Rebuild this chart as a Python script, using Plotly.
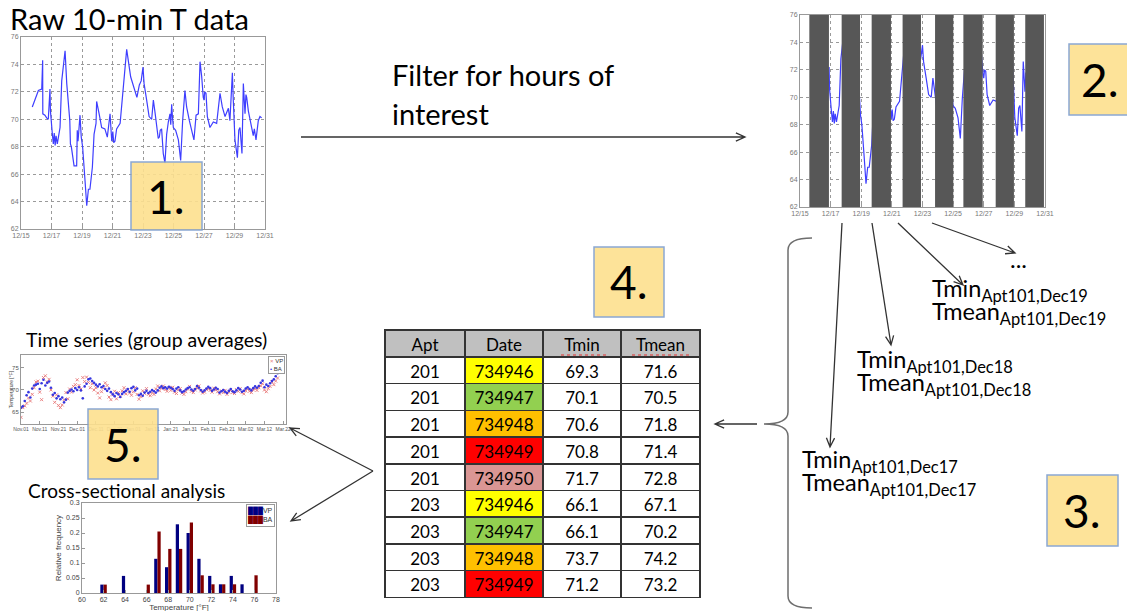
import math
import plotly.graph_objects as go

W, H = 1135, 611
OX, OY = 8, 8  # page body margin offset
FONT = "Lato"
AXFONT = "Liberation Sans"


def px(x):
    return (x - OX) / W


def py(y):
    return 1 - (y - OY) / H


# ---- raw 10-min temperature (day of December, degF) ----
raw_day = [15.74, 16.14, 16.36, 16.42, 16.43, 16.57, 16.68, 16.79, 16.90, 16.93, 17.05, 17.12, 17.18,
           17.24, 17.30, 17.38, 17.56, 17.67, 17.89, 18.00, 18.20, 18.24, 18.30, 18.48, 18.65, 18.69,
           18.74, 18.80, 18.87, 18.95, 19.04, 19.20, 19.31, 19.42, 19.52, 19.68, 19.79, 19.92, 19.96,
           20.14, 20.29, 20.50, 20.66, 20.84, 20.95, 21.02, 21.08, 21.16, 21.22, 21.27, 21.50, 21.70,
           21.93, 22.19, 22.48, 22.60, 22.76, 22.88, 23.00, 23.07, 23.24, 23.40, 23.57, 23.68, 23.80,
           23.94, 24.00, 24.07, 24.13, 24.22, 24.33, 24.44, 24.55, 24.66, 24.77, 24.82, 24.88, 24.93,
           24.99, 25.14, 25.32, 25.47, 25.60, 25.75, 25.86, 26.04, 26.19, 26.34, 26.48, 26.63, 26.74,
           26.85, 26.95, 27.00, 27.05, 27.13, 27.22, 27.39, 27.61, 27.83, 28.05, 28.20, 28.38, 28.60,
           28.70, 28.86, 28.92, 29.03, 29.19, 29.28, 29.36, 29.49, 29.58, 29.64, 29.69, 29.75, 29.80,
           29.91, 30.06, 30.23, 30.30, 30.41, 30.56, 30.67, 30.78]
raw_temp = [70.9, 72.1, 72.2, 74.3, 70.4, 70.3, 70.1, 70.0, 72.2, 70.6, 69.0, 68.2, 69.0,
            68.1, 68.8, 68.2, 69.4, 72.8, 75.0, 72.6, 69.9, 68.2, 68.0, 66.6, 66.6, 69.2,
            68.4, 69.8, 70.3, 68.7, 68.0, 65.5, 63.7, 64.9, 64.9, 66.5, 68.9, 69.7, 71.3,
            70.3, 69.4, 69.3, 68.7, 70.4, 68.4, 69.1, 68.3, 68.4, 69.0, 69.3, 69.7, 72.4,
            75.1, 73.1, 71.9, 71.6, 72.5, 72.8, 73.8, 72.6, 71.4, 70.2, 70.0, 71.4, 70.4,
            69.3, 68.6, 68.7, 69.2, 69.3, 67.5, 66.8, 68.9, 69.8, 70.4, 69.6, 71.1, 70.2,
            69.4, 69.2, 68.5, 67.0, 69.9, 72.1, 70.9, 69.9, 69.1, 68.5, 70.3, 70.4, 74.2,
            73.1, 71.6, 71.4, 72.0, 71.9, 70.2, 69.4, 69.8, 69.7, 71.9, 70.9, 70.2, 70.8,
            69.9, 73.4, 71.4, 68.5, 67.2, 69.2, 69.4, 67.5, 72.6, 71.0, 70.4, 71.8, 71.6,
            70.6, 69.7, 68.8, 69.3, 68.5, 69.9, 70.2, 70.1]
date_ticks = [15, 17, 19, 21, 23, 25, 27, 29, 31]
date_labels = ["12/15", "12/17", "12/19", "12/21", "12/23", "12/25", "12/27", "12/29", "12/31"]
temp_ticks = [62, 64, 66, 68, 70, 72, 74, 76]

# ---- excluded hours (dark bands in panel 2) ----
filter_start = [15.61, 17.72, 19.68, 21.70, 23.82, 25.67, 27.78, 29.71]
filter_end = [16.89, 18.92, 20.94, 22.90, 25.01, 26.93, 28.97, 30.93]

# ---- group-average time series (days since Nov 1) ----
ts_day = list(range(140))
ts_ba = [66.0, 66.3, 67.5, 68.8, 69.5, 68.3, 70.3, 71.0, 71.2, 71.4,
         70.2, 71.5, 72.3, 71.0, 71.6, 71.9, 70.5, 68.9, 69.3, 68.1,
         68.6, 67.9, 68.3, 67.2, 67.8, 69.4, 69.8, 70.1, 69.7, 70.4,
         70.0, 70.6, 69.9, 68.1, 70.8, 71.4, 72.4, 72.6, 72.0, 71.6,
         71.2, 70.8, 71.3, 70.6, 70.9, 70.2, 69.8, 70.3, 69.5, 69.0,
         68.6, 69.3, 69.0, 68.4, 69.1, 69.5, 69.8, 70.2, 69.6, 70.4,
         70.7, 69.9, 70.3, 68.8, 69.1, 68.7, 69.4, 69.8, 69.3, 69.6,
         70.0, 69.7, 69.4, 69.9, 70.5, 70.8, 70.4, 70.6, 70.3, 70.7,
         70.5, 70.2, 69.8, 70.3, 70.6, 69.9, 69.5, 69.7, 70.1, 70.4,
         70.6, 70.1, 69.8, 70.2, 70.9, 70.5, 70.0, 69.6, 69.9, 70.3,
         70.7, 70.4, 69.8, 70.1, 70.5, 70.2, 69.4, 69.7, 70.0, 69.6,
         69.3, 69.8, 70.2, 69.7, 69.5, 69.9, 70.4, 70.1, 69.6, 69.8,
         70.3, 70.6, 70.2, 69.9, 70.4, 70.8, 70.5, 70.9, 71.6, 72.1,
         70.6, 71.2, 70.9, 71.5, 72.0, 72.4, 73.1, 73.8, 75.0, 76.5]
ts_vp = [63.8, 66.0, 66.4, 67.0, 68.2, 67.5, 69.0, 70.5, 71.8, 72.0,
         69.5, 67.8, 72.8, 73.2, 71.8, 72.4, 70.0, 68.6, 67.2, 68.9,
         66.5, 66.0, 66.6, 67.8, 69.4, 68.0, 70.2, 69.5, 70.8, 71.2,
         72.3, 71.0, 70.2, 72.8, 71.9, 72.9, 71.7, 70.5, 71.4, 70.0,
         70.5, 69.3, 68.2, 69.6, 70.4, 71.6, 71.0, 68.4, 67.8, 68.9,
         69.7, 68.0, 69.4, 68.6, 69.8, 70.5, 69.1, 70.0, 69.3, 68.8,
         69.6, 70.5, 69.0, 67.9, 68.5, 69.8, 69.2, 70.3, 69.0, 68.7,
         69.4, 69.0, 70.2, 70.9, 69.8, 70.4, 70.9, 70.1, 69.7, 70.5,
         69.9, 70.6, 69.5, 69.2, 70.0, 70.3, 69.3, 69.0, 69.6, 70.2,
         70.8, 69.7, 69.4, 70.0, 70.4, 70.9, 69.8, 69.3, 69.5, 70.1,
         70.3, 69.9, 69.5, 70.4, 70.0, 69.6, 69.1, 69.8, 69.4, 69.9,
         69.0, 69.5, 69.9, 69.4, 69.2, 70.1, 69.7, 70.3, 69.4, 69.1,
         69.8, 70.2, 69.7, 69.4, 70.0, 70.3, 69.9, 70.5, 70.9, 71.4,
         70.0, 69.6, 70.3, 70.8, 71.8, 71.2, 72.0, 72.7, 74.0, 75.6]
ts_tick_day = [0, 10, 20, 30, 40, 50, 60, 70, 80, 90, 100, 110, 120, 130, 140]
ts_tick_labels = ["Nov.01", "Nov.11", "Nov.21", "Dec.01", "Dec.11", "Dec.21", "Jan.01", "Jan.11",
                  "Jan.21", "Jan.31", "Feb.11", "Feb.21", "Mar.02", "Mar.12", "Mar.22"]

# ---- cross-sectional histogram ----
hist_temp = [62, 63, 64, 65, 66, 67, 68, 69, 70, 71, 72, 73, 74, 75, 76]
hist_vp = [0.028, 0, 0.057, 0, 0, 0.114, 0.086, 0.229, 0.200, 0.114, 0.057, 0.029, 0.057, 0.029, 0]
hist_ba = [0.028, 0, 0, 0, 0.028, 0.205, 0.147, 0.147, 0.235, 0.059, 0.029, 0.029, 0.029, 0, 0.059]

# ---- daily summary table ----
table_apt = ["201", "201", "201", "201", "201", "203", "203", "203", "203"]
table_date = ["734946", "734947", "734948", "734949", "734950", "734946", "734947", "734948", "734949"]
table_tmin = ["69.3", "70.1", "70.6", "70.8", "71.7", "66.1", "66.1", "73.7", "71.2"]
table_tmean = ["71.6", "70.5", "71.8", "71.4", "72.8", "67.1", "70.2", "74.2", "73.2"]
date_colors = ["#ffff00", "#92d050", "#ffc000", "#ff0000", "#da9694",
               "#ffff00", "#92d050", "#ffc000", "#ff0000"]

VP_RED, BA_BLUE = "#e87878", "#3636e0"
fig = go.Figure()

# panel 1: raw data
fig.add_trace(go.Scatter(x=raw_day, y=raw_temp, mode="lines", line=dict(color="#3e3eff", width=1.2),
                         xaxis="x", yaxis="y"))
# panel 2: same data, excluded periods masked by dark bands drawn on top
fig.add_trace(go.Scatter(x=raw_day, y=raw_temp, mode="lines", line=dict(color="#3e3eff", width=1.2),
                         xaxis="x2", yaxis="y2"))
band_x, band_y = [], []
for s, e in zip(filter_start, filter_end):
    band_x += [s, s, e, e, s, None]
    band_y += [62, 76, 76, 62, 62, None]
fig.add_trace(go.Scatter(x=band_x, y=band_y, mode="lines", fill="toself", fillcolor="#575757",
                         line=dict(width=0, color="#575757"), xaxis="x2", yaxis="y2"))

# panel 5: group averages
fig.add_trace(go.Scatter(x=ts_day, y=ts_vp, mode="markers", name="VP",
                         marker=dict(symbol="x-thin", size=3, color=VP_RED, line=dict(color=VP_RED, width=0.9)),
                         xaxis="x3", yaxis="y3"))
fig.add_trace(go.Scatter(x=ts_day, y=ts_ba, mode="markers", name="BA",
                         marker=dict(symbol="circle", size=2.6, color=BA_BLUE),
                         xaxis="x3", yaxis="y3"))

# cross-sectional histogram
fig.add_trace(go.Bar(x=hist_temp, y=hist_vp, name="VP", marker_color="#000080", marker_line_width=0,
                     xaxis="x4", yaxis="y4"))
fig.add_trace(go.Bar(x=hist_temp, y=hist_ba, name="BA", marker_color="#800000", marker_line_width=0,
                     xaxis="x4", yaxis="y4"))

# table
fig.add_trace(go.Table(
    domain=dict(x=[px(385), px(700)], y=[py(598), py(330)]),
    columnwidth=[80, 78, 78, 79],
    header=dict(values=["Apt", "Date", "Tmin", "Tmean"], fill_color="#c0c0c0",
                line=dict(color="#333333", width=1.5), align="center", height=27,
                font=dict(family=FONT, size=17, color="black")),
    cells=dict(values=[table_apt, table_date, table_tmin, table_tmean],
               fill_color=[["white"] * 9, date_colors, ["white"] * 9, ["white"] * 9],
               line=dict(color="#333333", width=1.5), align="center", height=26.7,
               font=dict(family=FONT, size=17, color="black")),
))

tickfont = dict(family=AXFONT, size=7, color="#777777")
matlab_axis = dict(showline=True, mirror=True, linecolor="#999999", linewidth=1, ticks="inside",
                   ticklen=3, tickcolor="#999999", zeroline=False, automargin=False, tickfont=tickfont)
grid = dict(showgrid=True, gridcolor="#9a9a9a", griddash="dot", gridwidth=1)
small = dict(family=AXFONT, size=5, color="#555555")
histfont = dict(family=AXFONT, size=7, color="#444444")

fig.update_layout(
    width=W, height=H, margin=dict(l=0, r=0, t=0, b=0, autoexpand=False),
    paper_bgcolor="white", plot_bgcolor="white", showlegend=False,
    barmode="group", bargap=0.4, bargroupgap=0,
    xaxis=dict(domain=[px(21), px(265)], range=[15, 31], tickvals=date_ticks, ticktext=date_labels,
               anchor="y", **matlab_axis, **grid),
    yaxis=dict(domain=[py(229), py(37)], range=[62, 76], tickvals=temp_ticks, anchor="x",
               **matlab_axis, **grid),
    xaxis2=dict(domain=[px(800), px(1045)], range=[15, 31], tickvals=date_ticks, ticktext=date_labels,
                anchor="y2", **matlab_axis, **grid),
    yaxis2=dict(domain=[py(207), py(15)], range=[62, 76], tickvals=temp_ticks, anchor="x2",
                **matlab_axis, **grid),
    xaxis3=dict(domain=[px(21), px(286)], range=[0, 141.5], tickvals=ts_tick_day, ticktext=ts_tick_labels,
                anchor="y3", showgrid=False, **{**matlab_axis, "tickfont": small}),
    yaxis3=dict(domain=[py(424), py(355)], range=[62.3, 77.9], tickvals=[65, 70, 75], anchor="x3",
                showgrid=False, title=dict(text="Temperature [°F]", font=dict(family=AXFONT, size=5, color="#444444"), standoff=1),
                **{**matlab_axis, "tickfont": dict(family=AXFONT, size=6, color="#555555")}),
    xaxis4=dict(domain=[px(82), px(276)], range=[60, 78], tickvals=[60, 62, 64, 66, 68, 70, 72, 74, 76, 78],
                anchor="y4", showgrid=False,
                title=dict(text="Temperature [°F]", font=dict(family=AXFONT, size=8, color="#444444"), standoff=1),
                **{**matlab_axis, "tickfont": histfont}),
    yaxis4=dict(domain=[py(593), py(503)], range=[0, 0.3], tickvals=[0, 0.05, 0.1, 0.15, 0.2, 0.25, 0.3],
                ticktext=["0", "0.05", "0.1", "0.15", "0.2", "0.25", "0.3"], anchor="x4", showgrid=False,
                title=dict(text="Relative frequency", font=dict(family=AXFONT, size=8, color="#444444"), standoff=3),
                **{**matlab_axis, "tickfont": histfont}),
)


def arrow_path(x0, y0, x1, y1, head=10, spread=0.42):
    ang = math.atan2(y1 - y0, x1 - x0)
    ha = (x1 - head * math.cos(ang - spread), y1 - head * math.sin(ang - spread))
    hb = (x1 - head * math.cos(ang + spread), y1 - head * math.sin(ang + spread))
    return (f"M{px(x0)},{py(y0)} L{px(x1)},{py(y1)} "
            f"M{px(ha[0])},{py(ha[1])} L{px(x1)},{py(y1)} L{px(hb[0])},{py(hb[1])}")


arrows = [(301, 137, 745, 137), (842, 223, 830, 447), (872, 223, 891, 345), (898, 223, 963, 285),
          (932, 223, 1015, 253), (757, 424, 715, 424), (373, 471, 290, 428), (373, 471, 291, 521)]
shapes = []
for a in arrows:
    shapes.append(dict(type="path", xref="paper", yref="paper", path=arrow_path(*a),
                       line=dict(color="#333333", width=1.3)))

brace = "M{0},{1} Q{2},{1} {2},{3} L{2},{4} Q{2},{5} {6},{5} Q{2},{5} {2},{7} L{2},{8} Q{2},{9} {0},{9}".format(
    px(812), py(238), px(788), py(250), py(412), py(424), px(764), py(436), py(596), py(608))
shapes.append(dict(type="path", xref="paper", yref="paper", path=brace, line=dict(color="#6e6e6e", width=1.5)))

# spell-check squiggles under table headers
for x0, x1 in [(561, 606), (632, 690)]:
    shapes.append(dict(type="line", xref="paper", yref="paper", x0=px(x0), x1=px(x1), y0=py(355), y1=py(355),
                       line=dict(color="#e03030", width=1, dash="dot")))

annotations = []
# numbered step boxes
boxes = [("1.", 131, 162, 202, 230, 166), ("2.", 1069, 44, 1140, 115, 1100), ("3.", 1047, 475, 1118, 546, 1082),
         ("4.", 594, 247, 664, 317, 629), ("5.", 88, 409, 158, 479, 123)]
for label, x0, y0, x1, y1, cx in boxes:
    shapes.append(dict(type="rect", xref="paper", yref="paper", x0=px(x0), x1=px(x1), y0=py(y1), y1=py(y0),
                       fillcolor="#fde08f", opacity=0.9, line=dict(color="#7f9fd0", width=1.5)))
    annotations.append(dict(text=label, x=px(cx), y=py((y0 + y1) / 2), xref="paper", yref="paper",
                            xanchor="center", yanchor="middle", showarrow=False,
                            font=dict(family=FONT, size=46, color="black")))

# titles: (text, left x, centre y, font size)
texts = [
    ("Raw 10-min T data", 8, 18, 29),
    ("Filter for hours of", 390, 75, 29),
    ("interest", 390, 113, 29),
    ("Time series (group averages)", 24, 339, 19.5),
    ("Cross-sectional analysis", 26, 490, 19),
]
for t, x, y, s in texts:
    annotations.append(dict(text=t, x=px(x), y=py(y), xref="paper", yref="paper", xanchor="left",
                            yanchor="middle", showarrow=False, font=dict(family=FONT, size=s, color="black")))

summaries = [("Dec19", 930, 272), ("Dec18", 855, 343), ("Dec17", 800, 443)]
for day, x, y in summaries:
    annotations.append(dict(text=f"Tmin<sub>Apt101,{day}</sub>", x=px(x), y=py(y), xref="paper", yref="paper",
                            xanchor="left", yanchor="top", showarrow=False,
                            font=dict(family=FONT, size=23.5, color="black")))
    annotations.append(dict(text=f"Tmean<sub>Apt101,{day}</sub>", x=px(x), y=py(y + 23), xref="paper",
                            yref="paper", xanchor="left", yanchor="top", showarrow=False,
                            font=dict(family=FONT, size=23.5, color="black")))
annotations.append(dict(text="...", x=px(1018), y=py(258), xref="paper", yref="paper", showarrow=False,
                        xanchor="center", yanchor="middle", font=dict(family=FONT, size=24, color="black")))

# hand-made compact legends
annotations.append(dict(text=f"<span style='color:{VP_RED}'>×</span> VP<br><span style='color:{BA_BLUE}'>•</span> BA",
                        x=px(285), y=py(356), xref="paper", yref="paper", xanchor="right", yanchor="top",
                        align="left", showarrow=False, bgcolor="white", bordercolor="#999999", borderwidth=1,
                        borderpad=1, font=dict(family=AXFONT, size=6, color="#333333")))
annotations.append(dict(text="<span style='color:#000080'>███</span>VP<br><span style='color:#800000'>███</span>BA",
                        x=px(275), y=py(504), xref="paper", yref="paper", xanchor="right", yanchor="top",
                        align="left", showarrow=False, bgcolor="white", bordercolor="#999999", borderwidth=1,
                        borderpad=1, font=dict(family=AXFONT, size=7, color="#333333")))

fig.update_layout(shapes=shapes, annotations=annotations)

fig.write_html("out.html")
